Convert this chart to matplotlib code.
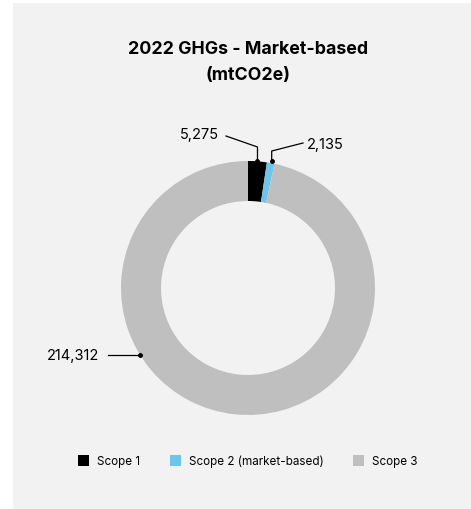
import numpy as np
import matplotlib
matplotlib.use("Agg")
import matplotlib.pyplot as plt
from matplotlib.patches import Rectangle

plt.rcParams["font.family"] = ["Inter", "DejaVu Sans"]

categories = ["Scope 1", "Scope 2 (market-based)", "Scope 3"]
values = [5275, 2135, 214312]
value_labels = ["5,275", "2,135", "214,312"]
colors = ["#000000", "#6ec5e9", "#bfbfbf"]

W, H = 471, 510
fig = plt.figure(figsize=(W / 100, H / 100), dpi=100)
fig.patch.set_facecolor("white")
ax = fig.add_axes([0, 0, 1, 1])

def fy(y):
    return H - y

ax.add_patch(Rectangle((13, -10), W, fy(4) + 10, facecolor="#f2f2f2",
                       edgecolor="none", zorder=0, clip_on=False))

cx, cy, r = 248, fy(289), 127
ax.pie(values, colors=colors, startangle=90, counterclock=False, radius=r,
       center=(cx, cy), wedgeprops=dict(width=40, edgecolor="none"), frame=True)
ax.set_xlim(0, W)
ax.set_ylim(0, H)
ax.axis("off")

ax.text(248, fy(50), "2022 GHGs - Market-based", ha="center", va="center",
        fontsize=12.8, fontweight="bold")
ax.text(248, fy(76), "(mtCO2e)", ha="center", va="center",
        fontsize=12.8, fontweight="bold")

# leader lines: angle measured clockwise from 12 o'clock
total = sum(values)
ang = np.cumsum([0] + values) / total * 360
mids = (ang[:-1] + ang[1:]) / 2
anchor = [mids[0], mids[1], 238]

def ring_point(a, rr):
    t = np.radians(a)
    return cx + rr * np.sin(t), cy + rr * np.cos(t)

# Scope 1
px, py = ring_point(anchor[0], r)
ax.plot([226, px, px], [fy(137), fy(148), py], color="black", lw=0.9)
ax.plot(px, py, "o", color="black", ms=2.5)
ax.text(219, fy(135), value_labels[0], ha="right", va="center", fontsize=10.5)
# Scope 2
px, py = ring_point(anchor[1], r)
ax.plot([303, px + 1, px + 1], [fy(144), fy(152), py + 2], color="black", lw=0.9)
ax.plot(px + 1, py + 2, "o", color="black", ms=2.5)
ax.text(307, fy(145), value_labels[1], ha="left", va="center", fontsize=10.5)
# Scope 3
px, py = ring_point(anchor[2], r)
ax.plot([108, px], [py, py], color="black", lw=0.9)
ax.plot(px, py, "o", color="black", ms=2.5)
ax.text(99, py, value_labels[2], ha="right", va="center", fontsize=10.5)

# legend
leg_x = [78, 170, 353]
for x, c, lab in zip(leg_x, colors, categories):
    ax.add_patch(Rectangle((x, fy(467)), 11, 11, facecolor=c, edgecolor="none"))
    ax.text(x + 19, fy(462), lab, ha="left", va="center", fontsize=8.4)

fig.savefig("out.png", dpi=100, facecolor=fig.get_facecolor())
